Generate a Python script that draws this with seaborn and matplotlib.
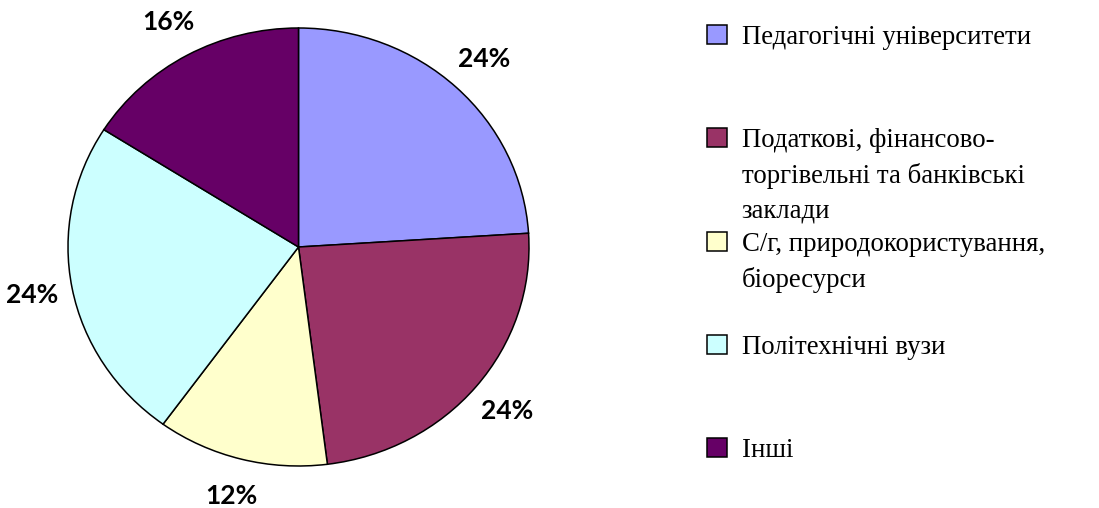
import matplotlib
matplotlib.use("Agg")
import matplotlib.pyplot as plt
import seaborn as sns

# data
categories = [
    "Педагогічні університети",
    "Податкові, фінансово-\nторгівельні та банківські\nзаклади",
    "С/г, природокористування,\nбіоресурси",
    "Політехнічні вузи",
    "Інші",
]
shares = [24, 24, 12, 24, 16]
colors = ["#9999FF", "#993366", "#FFFFCC", "#CCFFFF", "#660066"]

sns.set_style("white")
plt.rcParams["font.family"] = ["Liberation Serif", "DejaVu Serif"]
plt.rcParams["text.color"] = "black"

W, H = 1099, 508
fig = plt.figure(figsize=(W / 100, H / 100), dpi=100)
fig.patch.set_facecolor("white")

# pie area (Excel draws it slightly wider than tall)
ax = fig.add_axes([68 / W, (H - 466) / H, 461 / W, 438 / H])
wedges, texts, autotexts = ax.pie(
    shares, colors=colors, startangle=90, counterclock=False,
    autopct="%1.0f%%", pctdistance=1.175,
    wedgeprops=dict(edgecolor="black", linewidth=1.1),
    textprops=dict(family=["Lato", "DejaVu Sans"], fontweight="bold",
                   fontsize=19, color="black"))
ax.set_aspect("auto")
ax.set_xlim(-1, 1)
ax.set_ylim(-1, 1)

# one legend per entry, evenly spaced like Excel, handle at first line
entry_tops = [25, 128, 232, 335, 438]
for w, lab, top in zip(wedges, categories, entry_tops):
    leg = fig.legend([w], [lab], loc="upper left",
                     bbox_to_anchor=(707 / W, 1 - top / H),
                     frameon=False, borderpad=0, borderaxespad=0,
                     handlelength=0.74, handleheight=0.74,
                     handletextpad=0.55, fontsize=19.3, labelcolor="black")
    for t in leg.get_texts():
        t.set_linespacing(1.5)
    for col in leg._legend_handle_box.get_children():
        for item in col.get_children():
            item.align = "top"

fig.savefig("out.png", dpi=100)
